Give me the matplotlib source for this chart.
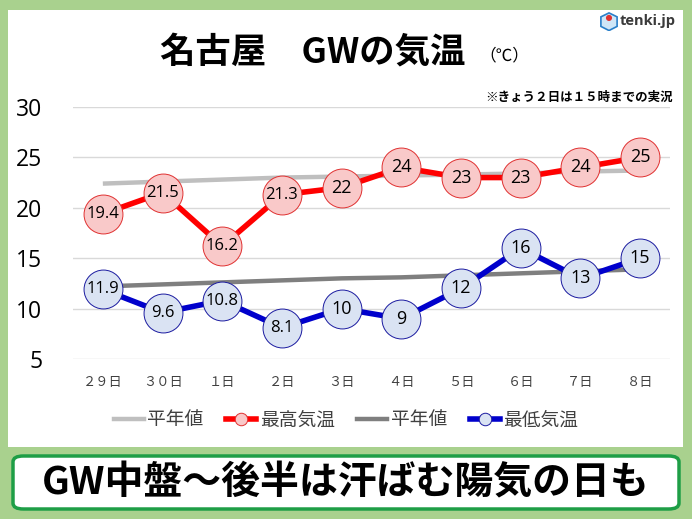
import matplotlib
matplotlib.use("Agg")
import matplotlib.pyplot as plt
from matplotlib.patches import FancyBboxPatch, Rectangle, Polygon, Circle
from matplotlib.lines import Line2D

plt.rcParams['font.family'] = ['Noto Sans CJK JP', 'DejaVu Sans']

days = ["２９日", "３０日", "１日", "２日", "３日", "４日", "５日", "６日", "７日", "８日"]
max_temp = [19.4, 21.5, 16.2, 21.3, 22, 24, 23, 23, 24, 25]
max_labels = ["19.4", "21.5", "16.2", "21.3", "22", "24", "23", "23", "24", "25"]
max_normal = [22.4, 22.6, 22.8, 23.0, 23.1, 23.2, 23.3, 23.4, 23.6, 23.7]
min_temp = [11.9, 9.6, 10.8, 8.1, 10, 9, 12, 16, 13, 15]
min_labels = ["11.9", "9.6", "10.8", "8.1", "10", "9", "12", "16", "13", "15"]
min_normal = [12.2, 12.4, 12.6, 12.8, 13.0, 13.1, 13.3, 13.5, 13.7, 13.9]
yticks = [5, 10, 15, 20, 25, 30]

W, H = 692, 519
fig = plt.figure(figsize=(W / 100, H / 100), dpi=100)
fig.patch.set_facecolor('#a9d18e')

def fx(px):
    return px / W

def fy(py):
    return 1 - py / H

# white panel
fig.add_artist(Rectangle((fx(8), fy(447)), fx(683) - fx(8), fy(10) - fy(447),
                         transform=fig.transFigure, facecolor='white', edgecolor='none', zorder=0))
# bottom banner
fig.add_artist(FancyBboxPatch((fx(13), fy(509)), fx(679) - fx(13), fy(456) - fy(509),
                              boxstyle="round,pad=0,rounding_size=0.015",
                              transform=fig.transFigure, facecolor='white',
                              edgecolor='#1e9e46', linewidth=2.5, zorder=1,
                              mutation_aspect=H / W))
fig.text(fx(346), fy(483), "GW中盤～後半は汗ばむ陽気の日も", ha='center', va='center',
         fontsize=28, fontweight='bold', color='black')

ax = fig.add_axes([fx(73), fy(359), fx(670) - fx(73), fy(107) - fy(359)])
ax.set_facecolor('none')
x = list(range(len(days)))

ax.plot(x, max_normal, color='#bfbfbf', lw=3.2, zorder=2, solid_capstyle='butt')
ax.plot(x, min_normal, color='#7f7f7f', lw=3.2, zorder=2, solid_capstyle='butt')
ax.plot(x, max_temp, color='#ff0000', lw=4, zorder=3, marker='o', markersize=28,
        markerfacecolor='#f9c9c9', markeredgecolor='#e03030', markeredgewidth=0.7)
ax.plot(x, min_temp, color='#0000cc', lw=4, zorder=3, marker='o', markersize=28,
        markerfacecolor='#dae3f3', markeredgecolor='#1a1aa0', markeredgewidth=0.7)

for xi, v, lab in zip(x, max_temp, max_labels):
    ax.text(xi, v, lab, ha='center', va='center', fontsize=13 if len(lab) <= 2 else 12,
            family=['Open Sans', 'DejaVu Sans'], color='black', zorder=5)
for xi, v, lab in zip(x, min_temp, min_labels):
    ax.text(xi, v, lab, ha='center', va='center', fontsize=13 if len(lab) <= 2 else 12,
            family=['Open Sans', 'DejaVu Sans'], color='black', zorder=5)

ax.set_xlim(-0.5, len(days) - 0.5)
ax.set_ylim(5, 30)
ax.set_yticks(yticks)
ax.set_yticklabels([str(t) for t in yticks], family=['Open Sans', 'DejaVu Sans'], fontsize=16.5)
ax.set_xticks(x)
ax.set_xticklabels(days, fontsize=9.5, color='#404040')
ax.tick_params(axis='y', length=0, pad=22, colors='black')
ax.tick_params(axis='x', length=0, pad=12)
ax.grid(axis='y', color='#d9d9d9', lw=1)
ax.set_axisbelow(True)
for s in ax.spines.values():
    s.set_visible(False)

# title
fig.text(fx(313), fy(52), "名古屋　GWの気温", ha='center', va='center', fontsize=25.5,
         fontweight='bold', color='black')
fig.text(fx(504), fy(56), "（℃）", ha='center', va='center', fontsize=12, color='black')
fig.text(fx(673), fy(97), "※きょう２日は１５時までの実況", ha='right', va='center',
         fontsize=9, fontweight='bold', color='black')

# logo
fig.text(fx(620), fy(21), "tenki.jp", ha='left', va='center', fontsize=10.5,
         fontweight='bold', color='#3a3a3a', family=['Open Sans', 'DejaVu Sans'])
lax = fig.add_axes([fx(600), fy(31), fx(18), fy(11) - fy(31)])
lax.set_xlim(0, 1)
lax.set_ylim(0, 1.1)
lax.set_aspect('equal')
lax.axis('off')
lax.add_patch(Polygon([[0.5, 1.0], [0.95, 0.78], [0.95, 0.25], [0.5, 0.02], [0.05, 0.25], [0.05, 0.78]],
                      closed=True, facecolor='#cfe6f7', edgecolor='#2a7fc9', lw=1.2))
lax.add_patch(Circle((0.5, 0.72), 0.17, facecolor='#e03030', edgecolor='none'))

# legend
handles = [
    Line2D([], [], color='#bfbfbf', lw=3.2),
    Line2D([], [], color='#ff0000', lw=4, marker='o', markersize=9,
           markerfacecolor='#f9c9c9', markeredgecolor='#e03030', markeredgewidth=0.7),
    Line2D([], [], color='#7f7f7f', lw=3.2),
    Line2D([], [], color='#0000cc', lw=4, marker='o', markersize=9,
           markerfacecolor='#dae3f3', markeredgecolor='#1a1aa0', markeredgewidth=0.7),
]
labels = ["平年値", "最高気温", "平年値", "最低気温"]
leg = fig.legend(handles, labels, loc='center', bbox_to_anchor=(fx(346), fy(420)), ncol=4,
                 frameon=False, fontsize=13.5, handlelength=1.6, handletextpad=0.2,
                 columnspacing=1.2, labelcolor='#404040')

fig.savefig("out.png", dpi=100, facecolor=fig.get_facecolor())
